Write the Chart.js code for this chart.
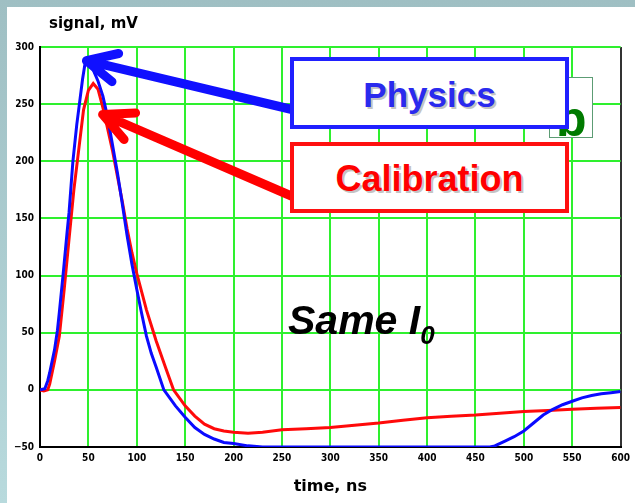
<!DOCTYPE html>
<html>
<head>
<meta charset="utf-8">
<script src="https://cdn.jsdelivr.net/npm/chart.js@4"></script>
<style>
  body { margin: 0; }
  #frame { position: relative; width: 635px; height: 503px; overflow: hidden;
           background: linear-gradient(#9fbfc3, #b8dadd); }
  #panel { position: absolute; left: 7px; top: 7px; width: 628px; height: 496px; background: #fff; }
  #chart { position: absolute; left: 0; top: 0; }
  .ann { position: absolute; box-sizing: border-box; font-family: "Liberation Sans", Arial, sans-serif; }
  #ylabel { left: 49px; top: 16px; font: bold 15px "DejaVu Sans", sans-serif; line-height: 15px; color: #000; }
  #gbox { left: 549px; top: 77px; width: 44px; height: 61px; border: 1px solid #5c9c74; background: #fff; overflow: hidden; }
  #gbox span { position: absolute; left: 6px; top: 16px; font-weight: bold; font-size: 50px; line-height: 50px; color: #007a00; }
  .box { display: flex; align-items: center; justify-content: center; background: #fff;
         font-weight: bold; font-size: 35px; text-shadow: 2px 2px 0 #c4c4c4; }
  #phys { left: 290px; top: 57px; width: 279px; height: 72px; border: 4px solid #2020ff; color: #2a2aee; padding-top: 3px; }
  #calib { left: 290px; top: 142px; width: 279px; height: 71px; border: 4px solid #ff1010; color: #ff0000; font-size: 36px; padding-top: 2px; }
  #same { left: 288px; top: 300px; font-weight: bold; font-style: italic; font-size: 41px; line-height: 41px; color: #000; white-space: nowrap; }
  #same sub { font-size: 26px; vertical-align: -10px; line-height: 0; }
</style>
</head>
<body>
<div id="frame">
  <div id="panel"></div>
  <canvas id="chart" width="635" height="503"></canvas>
  <div class="ann" id="ylabel">signal, mV</div>
  <div class="ann" id="gbox"><span>b</span></div>
  <div class="ann box" id="phys">Physics</div>
  <div class="ann box" id="calib">Calibration</div>
  <div class="ann" id="same">Same I<sub>0</sub></div>
</div>
<script>
// time axis (ns) and signal (mV)
const physicsTime = [0, 5, 8, 10, 15, 18, 20, 24, 28, 30, 34, 38, 41, 44, 47, 50, 55, 60, 65, 70,
  75, 80, 85, 90, 95, 100, 105, 110, 115, 120, 128, 140, 150, 160, 170, 180, 190, 200, 215, 230,
  300, 400, 465, 470, 480, 490, 500, 510, 520, 530, 540, 550, 560, 570, 580, 590, 600];
const physicsSignal = [0, 1, 8, 15, 35, 52, 68, 102, 138, 155, 200, 232, 252, 272, 288, 286, 280, 270, 257, 238,
  214, 190, 163, 135, 110, 88, 67, 47, 32, 20, 0, -14, -24, -33, -39, -43, -46, -47, -49, -50,
  -50, -50, -50, -49, -45, -41, -36, -29, -22, -17, -13, -10, -7, -5, -3.5, -2.5, -1.5];

const calibTime = [0, 4, 8, 10, 15, 20, 25, 30, 35, 40, 45, 50, 55, 60, 65, 70, 75, 80, 85, 90,
  95, 100, 110, 120, 130, 138, 150, 160, 170, 180, 190, 200, 215, 230, 250, 275, 300, 325, 350, 375,
  400, 425, 450, 475, 500, 525, 550, 575, 600];
const calibSignal = [0, -1, 0, 5, 25, 47, 88, 132, 175, 210, 245, 262, 268, 263, 247, 228, 209, 187, 165, 141,
  120, 102, 70, 43, 19, 0, -14, -23, -30, -34, -36, -37, -38, -37, -35, -34, -33, -31, -29, -26.5,
  -24.5, -23, -22, -20.5, -19, -18, -17, -16, -15.5];

const xTicks = [0, 50, 100, 150, 200, 250, 300, 350, 400, 450, 500, 550, 600];
const yTicks = [-50, 0, 50, 100, 150, 200, 250, 300];

// where the arrows point, in data units
const physicsArrowTip = [48, 288];
const calibArrowTip = [64.7, 241];

const toPoints = (xs, ys) => xs.map((x, i) => ({ x: x, y: ys[i] }));

const green = '#2ef02e';
const tickFont = { family: 'DejaVu Sans Condensed', size: 10, weight: 'bold' };

// arrows from the label boxes to the peaks
const arrowPlugin = {
  id: 'arrows',
  afterDatasetsDraw(chart) {
    const ctx = chart.ctx;
    const xs = chart.scales.x, ys = chart.scales.y;
    const draw = (tip, tail, color) => {
      const tx = xs.getPixelForValue(tip[0]), ty = ys.getPixelForValue(tip[1]);
      const ang = Math.atan2(tail[1] - ty, tail[0] - tx);
      const len = 33, spread = 26 * Math.PI / 180;
      ctx.save();
      ctx.strokeStyle = color;
      ctx.lineWidth = 9;
      ctx.lineCap = 'round';
      ctx.lineJoin = 'round';
      ctx.beginPath();
      ctx.moveTo(tail[0], tail[1]);
      ctx.lineTo(tx, ty);
      ctx.moveTo(tx + len * Math.cos(ang - spread), ty + len * Math.sin(ang - spread));
      ctx.lineTo(tx, ty);
      ctx.lineTo(tx + len * Math.cos(ang + spread), ty + len * Math.sin(ang + spread));
      ctx.stroke();
      ctx.restore();
    };
    draw(calibArrowTip, [296, 198], '#ff0000');
    draw(physicsArrowTip, [294, 110], '#1010ff');
  }
};

new Chart(document.getElementById('chart'), {
  type: 'line',
  data: {
    datasets: [{
      label: 'Physics',
      data: toPoints(physicsTime, physicsSignal),
      borderColor: '#0a0aff',
      borderWidth: 3,
      pointRadius: 0,
      tension: 0
    }, {
      label: 'Calibration',
      data: toPoints(calibTime, calibSignal),
      borderColor: '#ff0a0a',
      borderWidth: 3,
      pointRadius: 0,
      tension: 0
    }]
  },
  options: {
    responsive: false,
    animation: false,
    events: [],
    layout: { padding: { top: 47, right: 11, bottom: 0, left: 0 } },
    plugins: { legend: { display: false }, tooltip: { enabled: false } },
    scales: {
      x: {
        type: 'linear',
        min: 0, max: 600,
        afterBuildTicks: (s) => { s.ticks = xTicks.map(v => ({ value: v })); },
        afterFit: (s) => { s.height = 56; },
        ticks: { font: tickFont, color: '#000', padding: 5, maxRotation: 0 },
        grid: {
          color: (c) => (c.tick && c.tick.value === 600 ? '#333' : green),
          lineWidth: 2,
          drawTicks: false
        },
        border: { color: '#000', width: 2 },
        title: {
          display: true,
          text: 'time, ns',
          color: '#000',
          font: { family: 'DejaVu Sans', size: 16, weight: 'bold' },
          padding: { top: 0, bottom: 7 }
        }
      },
      y: {
        min: -50, max: 300,
        afterBuildTicks: (s) => { s.ticks = yTicks.map(v => ({ value: v })); },
        afterFit: (s) => { s.width = 40; },
        ticks: {
          font: tickFont, color: '#000', padding: 6,
          callback: (v) => (v < 0 ? '\u2212' + Math.abs(v) : String(v))
        },
        grid: { color: green, lineWidth: 2, drawTicks: false },
        border: { color: '#000', width: 2 }
      }
    }
  },
  plugins: [arrowPlugin]
});
</script>
</body>
</html>
